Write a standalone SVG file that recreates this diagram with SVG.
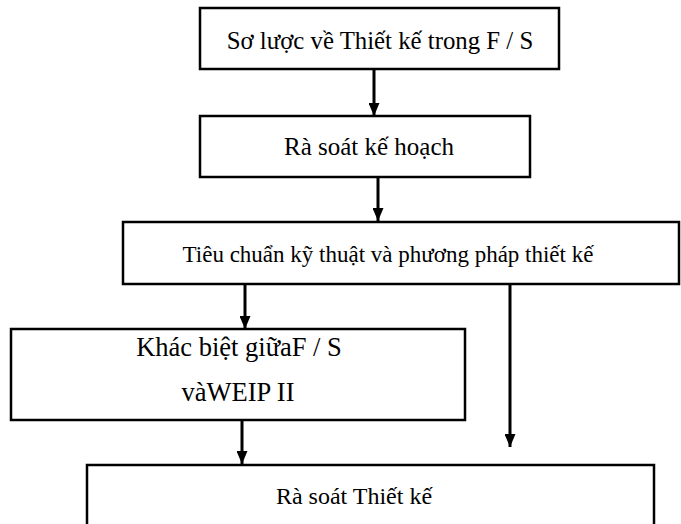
<svg xmlns="http://www.w3.org/2000/svg" width="681" height="524" viewBox="0 0 681 524">
<defs>
<marker id="ah" markerWidth="13" markerHeight="11" refX="13" refY="5.5" orient="auto" markerUnits="userSpaceOnUse" viewBox="0 0 13 11">
<path d="M0,0 L13,5.5 L0,11 Z" fill="#000"/>
</marker>
<style>
.box{fill:#fff;stroke:#000;stroke-width:2.5}
.t{font-family:"Liberation Serif","Times New Roman",serif;font-size:24px;fill:#000;text-anchor:middle}
.c{stroke:#000;stroke-width:3;fill:none}
</style>
</defs>
<rect width="681" height="524" fill="#fff"/>
<g id="connectors">
<line class="c" x1="374" y1="70" x2="374" y2="116" marker-end="url(#ah)"/>
<line class="c" x1="378" y1="177" x2="378" y2="221" marker-end="url(#ah)"/>
<line class="c" x1="245" y1="285" x2="245" y2="329" marker-end="url(#ah)"/>
<line class="c" x1="510" y1="285" x2="510" y2="447" marker-end="url(#ah)"/>
<line class="c" x1="242" y1="421" x2="242" y2="464" marker-end="url(#ah)"/>
</g>
<g id="n1">
<rect class="box" x="200" y="8" width="359" height="61"/>
<text class="t" x="380" y="49" style="font-size:24.8px">Sơ lược về Thiết kế trong F / S</text>
</g>
<g id="n2">
<rect class="box" x="200" y="116" width="330" height="61"/>
<text class="t" x="369" y="155" style="font-size:25px">Rà soát kế hoạch</text>
</g>
<g id="n3">
<rect class="box" x="123" y="222" width="556" height="62"/>
<text class="t" x="388" y="262" style="font-size:23px">Tiêu chuẩn kỹ thuật và phương pháp thiết kế</text>
</g>
<g id="n4">
<rect class="box" x="11" y="329" width="454" height="91"/>
<text class="t" x="239" y="356" style="font-size:26.5px">Khác biệt giữaF / S</text>
<text class="t" x="238" y="401" style="font-size:26.5px">vàWEIP II</text>
</g>
<g id="n5">
<rect class="box" x="87" y="465" width="567" height="70"/>
<text class="t" x="354" y="504" style="font-size:24px">Rà soát Thiết kế</text>
</g>
</svg>
